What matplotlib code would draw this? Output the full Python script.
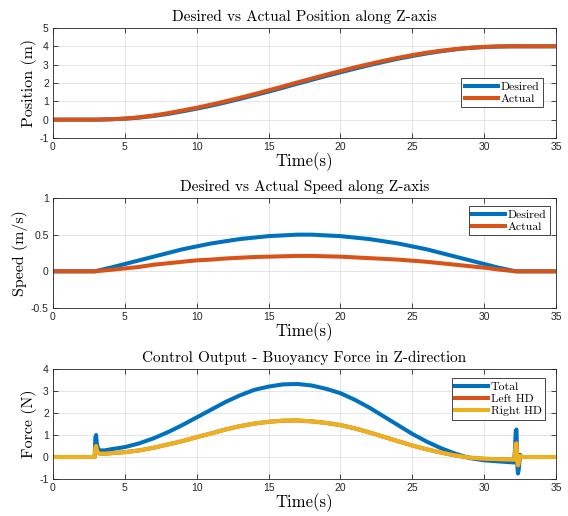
import matplotlib
matplotlib.use("Agg")
import matplotlib.pyplot as plt

# values
t_pos = [0, 1, 2, 3, 4, 5, 6, 7, 8, 9, 10, 11, 12, 13, 14, 15, 16, 17, 18, 19,
         20, 21, 22, 23, 24, 25, 26, 27, 28, 29, 30, 31, 32, 33, 34, 35]
pos_desired = [0, 0, 0, 0, 0.02, 0.05, 0.11, 0.2, 0.31, 0.45, 0.6, 0.76, 0.94,
               1.13, 1.33, 1.53, 1.74, 1.96, 2.17, 2.38, 2.58, 2.78, 2.97, 3.15,
               3.32, 3.47, 3.61, 3.73, 3.83, 3.91, 3.96, 3.99, 4.0, 4.0, 4.0, 4.0]
pos_actual = [0, 0, 0, 0, 0.02, 0.06, 0.13, 0.23, 0.35, 0.5, 0.65, 0.82, 1.0,
              1.19, 1.39, 1.6, 1.81, 2.03, 2.24, 2.45, 2.65, 2.85, 3.03, 3.21,
              3.37, 3.52, 3.65, 3.76, 3.85, 3.92, 3.97, 3.99, 4.0, 4.0, 4.0, 4.0]

t_spd = [0, 1, 2, 2.9, 4, 5, 6, 7, 8, 9, 10, 11, 12, 13, 14, 15, 16, 17, 18, 19,
         20, 21, 22, 23, 24, 25, 26, 27, 28, 29, 30, 31, 32.2, 33, 34, 35]
spd_desired = [0, 0, 0, 0, 0.05, 0.1, 0.15, 0.2, 0.25, 0.3, 0.34, 0.38, 0.41,
               0.44, 0.46, 0.48, 0.49, 0.5, 0.5, 0.49, 0.48, 0.46, 0.44, 0.41,
               0.38, 0.34, 0.3, 0.25, 0.2, 0.15, 0.1, 0.05, 0, 0, 0, 0]
spd_actual = [0, 0, 0, 0, 0.02, 0.04, 0.06, 0.09, 0.11, 0.13, 0.15, 0.16, 0.175,
              0.185, 0.195, 0.2, 0.205, 0.21, 0.21, 0.205, 0.2, 0.19, 0.18, 0.17,
              0.16, 0.145, 0.13, 0.11, 0.09, 0.07, 0.05, 0.025, 0, 0, 0, 0]

t_frc = [0, 1, 2, 2.9, 2.95, 3.0, 3.05, 3.15, 3.3, 3.6, 4, 5, 6, 7, 8, 9, 10,
         11, 12, 13, 14, 15, 16, 17, 18, 19, 20, 21, 22, 23, 24, 25, 26, 27, 28,
         29, 30, 31, 32.1, 32.2, 32.25, 32.3, 32.35, 32.4, 32.5, 32.6, 33, 34, 35]
frc_total = [0, 0, 0, 0, 0.9, 1.0, 0.6, 0.35, 0.3, 0.3, 0.35, 0.45, 0.62, 0.85,
             1.13, 1.45, 1.8, 2.15, 2.5, 2.8, 3.05, 3.2, 3.3, 3.32, 3.25, 3.1,
             2.9, 2.6, 2.25, 1.85, 1.45, 1.05, 0.7, 0.4, 0.15, -0.05, -0.15, -0.2,
             -0.25, 1.2, 1.25, -0.3, -0.75, -0.6, 0.1, 0, 0, 0, 0]
frc_left = [0, 0, 0, 0, 0.45, 0.5, 0.3, 0.18, 0.15, 0.15, 0.17, 0.22, 0.3, 0.42,
            0.57, 0.72, 0.9, 1.07, 1.25, 1.4, 1.52, 1.6, 1.65, 1.66, 1.62, 1.55,
            1.45, 1.3, 1.12, 0.92, 0.72, 0.52, 0.35, 0.2, 0.07, -0.03, -0.08,
            -0.1, -0.12, 0.6, 0.62, -0.15, -0.38, -0.3, 0.05, 0, 0, 0, 0]
frc_right = [0, 0, 0, 0, 0.45, 0.5, 0.3, 0.18, 0.15, 0.15, 0.17, 0.22, 0.3, 0.42,
             0.57, 0.72, 0.9, 1.07, 1.25, 1.4, 1.52, 1.6, 1.65, 1.66, 1.62, 1.55,
             1.45, 1.3, 1.12, 0.92, 0.72, 0.52, 0.35, 0.2, 0.07, -0.03, -0.08,
             -0.1, -0.12, 0.6, 0.62, -0.15, -0.38, -0.3, 0.05, 0, 0, 0, 0]

x_ticks = [0, 5, 10, 15, 20, 25, 30, 35]

BLUE = "#0072BD"
ORANGE = "#D95319"
YELLOW = "#EDB120"

plt.rcParams["axes.unicode_minus"] = False
plt.rcParams["font.family"] = ["Liberation Sans", "DejaVu Sans"]

serif = dict(family=["cmr10", "DejaVu Serif"])

fig = plt.figure(figsize=(5.68, 5.16), dpi=100)

ax_boxes = [[0.0933, 0.7326, 0.8856, 0.2132],
            [0.0933, 0.4031, 0.8856, 0.2132],
            [0.0933, 0.0717, 0.8856, 0.2132]]


def style_axes(ax, ylim, yticks, title, ylabel):
    ax.set_xlim(0, 35)
    ax.set_ylim(*ylim)
    ax.set_xticks(x_ticks)
    ax.set_yticks(yticks)
    ax.set_yticklabels([("%g" % v) for v in yticks])
    ax.tick_params(direction="in", top=True, right=True, labelsize=7.5,
                   colors="#262626", length=3.5, width=0.6, pad=3)
    ax.grid(True, color="#e0e0e0", linewidth=0.6)
    ax.set_axisbelow(True)
    for s in ax.spines.values():
        s.set_color("#262626")
        s.set_linewidth(0.6)
    ax.set_title(title, fontsize=11, pad=5, **serif)
    ax.set_xlabel("Time(s)", fontsize=12, labelpad=0, **serif)
    ax.set_ylabel(ylabel, fontsize=11.5, labelpad=2, **serif)


def add_legend(ax, **kw):
    leg = ax.legend(prop=dict(family=["cmr10", "DejaVu Serif"], size=8.5),
                    handlelength=2.8, handletextpad=0.2, borderpad=0.3,
                    labelspacing=0.15, fancybox=False, framealpha=1, **kw)
    leg.get_frame().set_edgecolor("#262626")
    leg.get_frame().set_linewidth(0.6)


ax1 = fig.add_axes(ax_boxes[0])
ax1.plot(t_pos, pos_desired, color=BLUE, lw=2.9, label="Desired")
ax1.plot(t_pos, pos_actual, color=ORANGE, lw=2.9, label="Actual")
style_axes(ax1, (-1, 5), [-1, 0, 1, 2, 3, 4, 5],
           "Desired vs Actual Position along Z-axis", "Position (m)")
add_legend(ax1, loc="upper right", bbox_to_anchor=(0.985, 0.6))

ax2 = fig.add_axes(ax_boxes[1])
ax2.plot(t_spd, spd_desired, color=BLUE, lw=2.9, label="Desired")
ax2.plot(t_spd, spd_actual, color=ORANGE, lw=2.9, label="Actual")
style_axes(ax2, (-0.5, 1), [-0.5, 0, 0.5, 1],
           "Desired vs Actual Speed along Z-axis", "Speed (m/s)")
add_legend(ax2, loc="upper right", bbox_to_anchor=(1.0, 0.98))

ax3 = fig.add_axes(ax_boxes[2])
ax3.plot(t_frc, frc_total, color=BLUE, lw=2.9, label="Total")
ax3.plot(t_frc, frc_left, color=ORANGE, lw=2.9, label="Left HD")
ax3.plot(t_frc, frc_right, color=YELLOW, lw=2.9, label="Right HD")
style_axes(ax3, (-1, 4), [-1, 0, 1, 2, 3, 4],
           "Control Output - Buoyancy Force in Z-direction", "Force (N)")
add_legend(ax3, loc="upper right", bbox_to_anchor=(0.99, 0.97))

fig.savefig("out.png", dpi=100)
